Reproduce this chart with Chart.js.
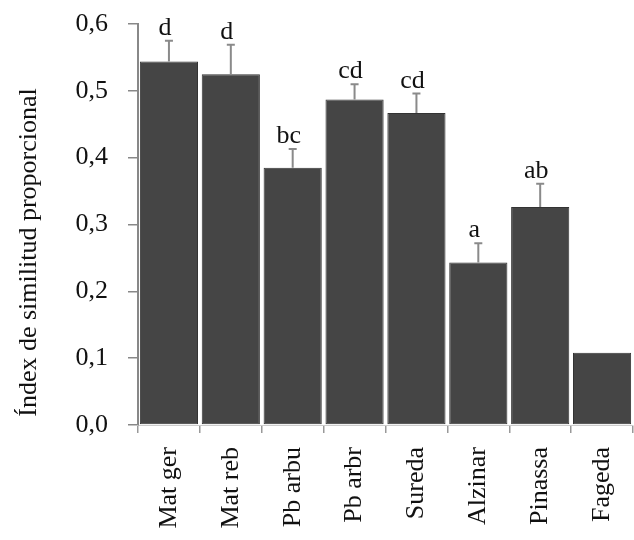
<!DOCTYPE html>
<html>
<head>
<meta charset="utf-8">
<script src="https://cdn.jsdelivr.net/npm/chart.js@4/dist/chart.umd.min.js"></script>
<style>
  html, body { margin: 0; padding: 0; background: #fff; }
  #wrap { width: 634px; height: 540px; }
</style>
</head>
<body>
<div id="wrap"><canvas id="chart"></canvas></div>
<script>
// dades
const categories = ["Mat ger", "Mat reb", "Pb arbu", "Pb arbr", "Sureda", "Alzinar", "Pinassa", "Fageda"];
const means = [0.544, 0.525, 0.385, 0.487, 0.467, 0.243, 0.326, 0.108];
const errors = [0.031, 0.044, 0.028, 0.023, 0.029, 0.029, 0.035, 0];
const letters = ["d", "d", "bc", "cd", "cd", "a", "ab", ""];
const yTicks = [0, 0.1, 0.2, 0.3, 0.4, 0.5, 0.6];
const yTitle = "Índex de similitud proporcional";

const serif = "'Liberation Serif', 'DejaVu Serif', serif";

// barres d'error, lletres i títol de l'eix Y
const errorBars = {
  id: "errorBars",
  afterDatasetsDraw(chart) {
    const ctx = chart.ctx;
    const meta = chart.getDatasetMeta(0);
    const y = chart.scales.y;
    ctx.save();
    meta.data.forEach(function (bar, i) {
      const top = y.getPixelForValue(means[i] + errors[i]);
      if (errors[i] > 0) {
        ctx.strokeStyle = "#8a8a8a";
        ctx.lineWidth = 2;
        ctx.beginPath();
        ctx.moveTo(bar.x, bar.y);
        ctx.lineTo(bar.x, top);
        ctx.moveTo(bar.x - 4, top);
        ctx.lineTo(bar.x + 4, top);
        ctx.stroke();
      }
      if (letters[i]) {
        ctx.fillStyle = "#111";
        ctx.font = "26px " + serif;
        ctx.textAlign = "center";
        ctx.textBaseline = "alphabetic";
        ctx.fillText(letters[i], bar.x - 4, top - 6);
      }
    });
    // títol de l'eix, una mica per sota del centre com a l'original
    ctx.translate(y.left + 29, (y.top + y.bottom) / 2 + 28);
    ctx.rotate(-Math.PI / 2);
    ctx.font = "26px " + serif;
    ctx.fillStyle = "#111";
    ctx.textAlign = "center";
    ctx.textBaseline = "middle";
    ctx.fillText(yTitle, 0, 0);
    ctx.restore();
  }
};

const ctx = document.getElementById("chart").getContext("2d");
const myChart = new Chart(ctx, {
  type: "bar",
  data: {
    labels: categories,
    datasets: [
      {
        data: means,
        backgroundColor: "#454545",
        borderColor: "#333",
        borderWidth: 1,
        borderSkipped: false,
        barPercentage: 0.94,
        categoryPercentage: 1.0,
      },
    ],
  },
  options: {
    responsive: true,
    maintainAspectRatio: false,
    animation: false,
    layout: { padding: { top: 24, right: 1, left: 0, bottom: 0 } },
    plugins: {
      legend: { display: false },
      tooltip: { enabled: false },
    },
    scales: {
      x: {
        grid: {
          offset: true,
          drawOnChartArea: false,
          color: "#999",
          tickLength: 8,
          lineWidth: 1.5,
        },
        border: { display: true, color: "#ccc", width: 1 },
        ticks: {
          color: "#111",
          font: { family: serif, size: 26, lineHeight: 0.1 },
          minRotation: 90,
          maxRotation: 90,
          padding: 14,
        },
        afterFit(scale) { scale.height = 115; },
      },
      y: {
        min: 0,
        max: 0.6,
        afterBuildTicks(scale) {
          scale.ticks = yTicks.map(function (v) { return { value: v }; });
        },
        grid: {
          drawOnChartArea: false,
          color: "#888",
          tickLength: 10,
          lineWidth: 1.5,
        },
        border: { display: true, color: "#888", width: 2 },
        ticks: {
          color: "#111",
          font: { family: serif, size: 26, lineHeight: 0.1 },
          padding: 20,
          callback: function (v) { return v.toFixed(1).replace(".", ","); },
        },
        afterFit(scale) { scale.width = 138; },
      },
    },
  },
  plugins: [errorBars],
});
</script>
</body>
</html>
